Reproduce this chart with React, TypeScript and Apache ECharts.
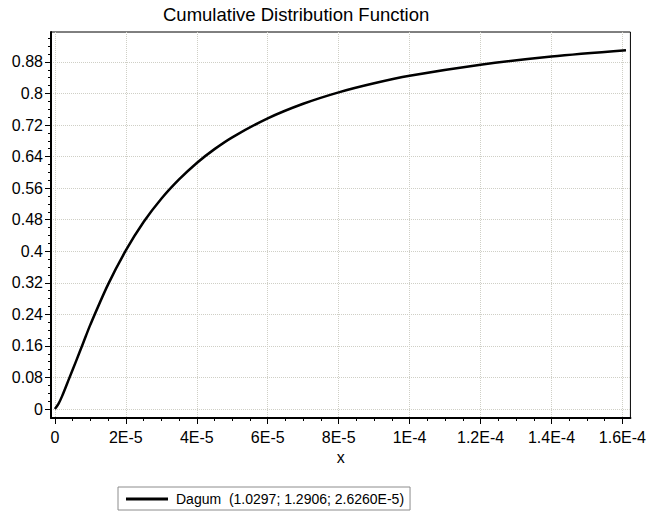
import React, { useEffect, useRef } from "react";
import * as echarts from "echarts";

const titleText = "Cumulative Distribution Function";
const seriesName = "Dagum  (1.0297; 1.2906; 2.6260E-5)";
const xAxisName = "x";

// Curve points
const xValues = [
  0, 1.0e-6, 2.0e-6, 4.0e-6, 6.0e-6, 8.0e-6, 1.0e-5, 1.5e-5, 2.0e-5, 2.5e-5,
  3.0e-5, 3.5e-5, 4.0e-5, 4.5e-5, 5.0e-5, 6.0e-5, 7.0e-5, 8.0e-5, 9.0e-5, 1.0e-4,
  1.2e-4, 1.4e-4, 1.61e-4,
];
const yValues = [
  0, 0.013, 0.032, 0.077, 0.122, 0.168, 0.214, 0.316, 0.402, 0.474,
  0.533, 0.582, 0.624, 0.659, 0.689, 0.737, 0.774, 0.803, 0.826, 0.845,
  0.873, 0.894, 0.91,
];

const xTickValues = [0, 2e-5, 4e-5, 6e-5, 8e-5, 1e-4, 1.2e-4, 1.4e-4, 1.6e-4];
const xTickLabels = ["0", "2E-5", "4E-5", "6E-5", "8E-5", "1E-4", "1.2E-4", "1.4E-4", "1.6E-4"];
const yTickValues = [0, 0.08, 0.16, 0.24, 0.32, 0.4, 0.48, 0.56, 0.64, 0.72, 0.8, 0.88];
const yTickLabels = ["0", "0.08", "0.16", "0.24", "0.32", "0.4", "0.48", "0.56", "0.64", "0.72", "0.8", "0.88"];

const xMin = -1.1e-6;
const xMax = 1.6225e-4;
const yMin = -0.0228;
const yMax = 0.956;

const xMinorStep = 5e-6;
const yMinorStep = 0.02;

const FONT = "'Liberation Sans', Arial, Helvetica, sans-serif";

function nearestLabel(v: number, vals: number[], labels: string[]) {
  let best = 0;
  let bd = Infinity;
  vals.forEach((t, i) => {
    const d = Math.abs(t - v);
    if (d < bd) {
      bd = d;
      best = i;
    }
  });
  return labels[best];
}

export default function App() {
  const ref = useRef<HTMLDivElement>(null);

  useEffect(() => {
    if (!ref.current) return;
    const chart = echarts.init(ref.current, undefined, { renderer: "svg" });

    const xMinor: number[] = [];
    for (let i = 0; i * xMinorStep <= xMax; i++) xMinor.push(+(i * xMinorStep).toPrecision(6));
    const yMinor: number[] = [];
    for (let i = 0; i * yMinorStep <= yMax; i++) yMinor.push(+(i * yMinorStep).toFixed(2));

    const gridLine = { show: true, lineStyle: { color: "#cfcfc6", type: "dotted" as const, width: 1 } };

    chart.setOption({
      animation: false,
      backgroundColor: "#fff",
      textStyle: { fontFamily: FONT },
      title: {
        text: titleText,
        left: 163,
        top: 5,
        padding: 0,
        textStyle: { fontSize: 18.5, fontWeight: "normal", color: "#000", fontFamily: FONT },
      },
      grid: {
        left: 51,
        right: 18,
        top: 32,
        bottom: 100,
        show: true,
        borderColor: "#000",
        borderWidth: 1,
        backgroundColor: "transparent",
      },
      legend: {
        left: 118,
        top: 487,
        padding: [5, 6, 4, 8],
        borderColor: "#8c8c8c",
        borderWidth: 1,
        borderRadius: 0,
        itemWidth: 42,
        itemHeight: 3,
        icon: "rect",
        textStyle: { fontSize: 14, color: "#000", fontFamily: FONT, padding: [0, 0, 0, 3] },
        data: [{ name: seriesName, icon: "rect", itemStyle: { color: "#000" } }],
      },
      xAxis: [
        {
          type: "value",
          min: xMin,
          max: xMax,
          name: xAxisName,
          nameLocation: "middle",
          nameGap: 30,
          nameTextStyle: { fontSize: 16, color: "#000", fontFamily: FONT },
          axisLine: { show: true, onZero: false, lineStyle: { color: "#000", width: 2 } },
          axisTick: { show: true, inside: false, length: 6, customValues: xTickValues, lineStyle: { color: "#000", width: 1 } },
          axisLabel: {
            show: true,
            margin: 11,
            fontSize: 16,
            color: "#000",
            fontFamily: FONT,
            customValues: xTickValues,
            formatter: (v: number) => nearestLabel(v, xTickValues, xTickLabels),
          },
          splitLine: gridLine,
        },
        {
          type: "value",
          min: xMin,
          max: xMax,
          position: "bottom",
          axisLine: { show: false, onZero: false },
          axisTick: { show: true, inside: false, length: 3, customValues: xMinor, lineStyle: { color: "#000", width: 1 } },
          axisLabel: { show: false },
          splitLine: { show: false },
        },
      ],
      yAxis: [
        {
          type: "value",
          min: yMin,
          max: yMax,
          axisLine: { show: true, onZero: false, lineStyle: { color: "#000", width: 2 } },
          axisTick: { show: true, inside: false, length: 6, customValues: yTickValues, lineStyle: { color: "#000", width: 1 } },
          axisLabel: {
            show: true,
            margin: 8,
            fontSize: 16,
            color: "#000",
            fontFamily: FONT,
            customValues: yTickValues,
            formatter: (v: number) => nearestLabel(v, yTickValues, yTickLabels),
          },
          splitLine: gridLine,
        },
        {
          type: "value",
          min: yMin,
          max: yMax,
          position: "left",
          axisLine: { show: false, onZero: false },
          axisTick: { show: true, inside: false, length: 3, customValues: yMinor, lineStyle: { color: "#000", width: 1 } },
          axisLabel: { show: false },
          splitLine: { show: false },
        },
      ],
      series: [
        {
          type: "line",
          name: seriesName,
          xAxisIndex: 0,
          yAxisIndex: 0,
          data: xValues.map((x, i) => [x, yValues[i]]),
          showSymbol: false,
          symbol: "none",
          smooth: 0.3,
          lineStyle: { color: "#000", width: 2.5 },
          itemStyle: { color: "#000" },
        },
      ],
    });

    return () => chart.dispose();
  }, []);

  return <div ref={ref} style={{ width: 649, height: 518, position: "absolute", left: 0, top: 0 }} />;
}
